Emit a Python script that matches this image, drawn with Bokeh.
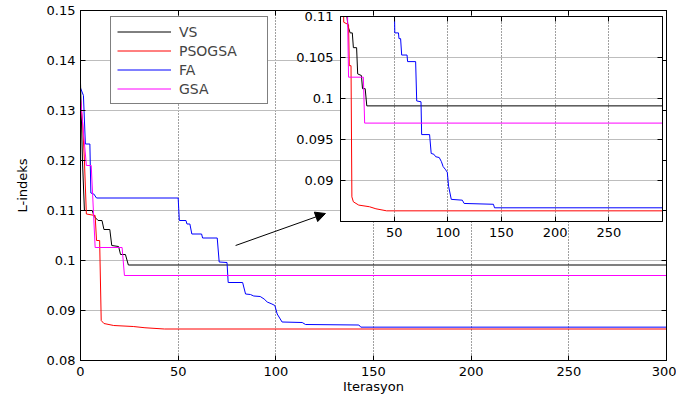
from bokeh.plotting import figure
from bokeh.models import Range1d, FixedTicker, LinearAxis, Legend, LegendItem, Arrow, NormalHead
from bokeh.layouts import column
from bokeh.embed import file_html
from bokeh.resources import INLINE

# ---------------- data ----------------
names = ["VS", "PSOGSA", "FA", "GSA"]
colors = ["black", "#ff0000", "#0000ff", "#ff00ff"]

vs_x = [0, 1, 2, 6, 7, 9, 11, 12, 15, 16, 19.5, 20.5, 23, 24.5, 300]
vs_y = [0.1355, 0.12, 0.110, 0.110, 0.1088, 0.108, 0.108, 0.1062, 0.1062, 0.103, 0.1028,
        0.1012, 0.1012, 0.0991, 0.0991]

pso_x = [0, 1, 2, 3, 7.5, 8.2, 9.8, 10.6, 12, 17, 27, 33, 43, 300]
pso_y = [0.132, 0.128, 0.12, 0.1093, 0.109, 0.104, 0.104, 0.088, 0.0874, 0.087, 0.0868,
         0.08655, 0.0863, 0.0863]

fa_x = [0, 1.5, 2.5, 4.8, 5.3, 6.8, 8.2, 50.0, 50.6, 54, 54.5, 56, 57, 62, 62.5, 70, 71, 75,
        75.6, 83, 84.5, 87, 88.7, 92, 94, 95.6, 98, 99.5, 100.7, 103.2, 113.5, 115.2, 142.5,
        143.5, 300]
fa_y = [0.1345, 0.133, 0.1233, 0.1233, 0.1135, 0.1133, 0.1125, 0.1125, 0.108, 0.108, 0.1073,
        0.1073, 0.1053, 0.1053, 0.1045, 0.1045, 0.0997, 0.0996, 0.0956, 0.0956, 0.0933, 0.0932,
        0.0929, 0.0928, 0.0923, 0.0917, 0.0913, 0.091, 0.0893, 0.0877, 0.0876, 0.0872, 0.0871,
        0.08667, 0.08667]

gsa_x = [0, 1, 3, 5.5, 7.5, 21.3, 22.5, 300]
gsa_y = [0.1327, 0.128, 0.119, 0.119, 0.1026, 0.1026, 0.097, 0.097]

series_x = [vs_x, pso_x, fa_x, gsa_x]
series_y = [vs_y, pso_y, fa_y, gsa_y]

x_ticks = [0, 50, 100, 150, 200, 250, 300]
x_labels = ["0", "50", "100", "150", "200", "250", "300"]
y_ticks = [0.08, 0.09, 0.10, 0.11, 0.12, 0.13, 0.14, 0.15]
y_labels = ["0.08", "0.09", "0.1", "0.11", "0.12", "0.13", "0.14", "0.15"]

in_x_ticks = [50, 100, 150, 200, 250]
in_x_labels = ["50", "100", "150", "200", "250"]
in_y_ticks = [0.09, 0.095, 0.10, 0.105, 0.11]
in_y_labels = ["0.09", "0.095", "0.1", "0.105", "0.11"]

FONT = "DejaVu Sans"
FS = "13px"


def style_axes(fig, xt, xl, yt, yl):
    for ax, t, l in ((fig.xaxis[0], xt, xl), (fig.yaxis[0], yt, yl)):
        ax.ticker = FixedTicker(ticks=t)
        ax.major_label_overrides = {v: s for v, s in zip(t, l)}
        ax.major_tick_in = 5
        ax.major_tick_out = 0
        ax.minor_tick_in = 0
        ax.minor_tick_out = 0
        ax.axis_line_color = "black"
        ax.major_tick_line_color = "black"
        ax.major_label_text_font = FONT
        ax.major_label_text_font_size = FS
        ax.major_label_text_color = "black"
        ax.axis_label_text_font = FONT
        ax.axis_label_text_font_size = FS
        ax.axis_label_text_font_style = "normal"
        ax.axis_label_text_color = "black"
    fig.xaxis[0].major_label_standoff = 6
    fig.yaxis[0].major_label_standoff = 5
    for loc, t in (("above", xt), ("right", yt)):
        a = LinearAxis(ticker=FixedTicker(ticks=t), major_tick_in=5, major_tick_out=0,
                       minor_tick_in=0, minor_tick_out=0, major_label_text_font_size="0px",
                       major_label_standoff=0, axis_line_color="black",
                       major_tick_line_color="black")
        a.major_label_overrides = {v: "" for v in t}
        fig.add_layout(a, loc)
    fig.xgrid.ticker = FixedTicker(ticks=xt)
    fig.ygrid.ticker = FixedTicker(ticks=yt)
    fig.xgrid.grid_line_color = "#404040"
    fig.xgrid.grid_line_dash = "1 2"
    fig.ygrid.grid_line_color = "#bdbdbd"
    fig.ygrid.grid_line_dash = "solid"


# ---------------- main figure ----------------
p = figure(width=676, height=397, output_backend="svg", toolbar_location=None,
           x_range=Range1d(0, 300), y_range=Range1d(0.08, 0.15),
           min_border_left=80, min_border_right=10, min_border_top=10, min_border_bottom=37,
           outline_line_color="black", background_fill_color="white")
p.xaxis.axis_label = "Iterasyon"
p.yaxis.axis_label = "L-indeks"
style_axes(p, x_ticks, x_labels, y_ticks, y_labels)
p.xaxis.axis_label_standoff = 0
p.yaxis.axis_label_standoff = 14

renderers = []
for xs, ys, c in zip(series_x, series_y, colors):
    renderers.append(p.line(xs, ys, line_color=c, line_width=1))

legend = Legend(items=[LegendItem(label=n, renderers=[r]) for n, r in zip(names, renderers)],
                location=(30, 256))
legend.border_line_color = "black"
legend.border_line_width = 1
legend.background_fill_color = "white"
legend.background_fill_alpha = 1
legend.label_text_font = FONT
legend.label_text_font_size = "14px"
legend.glyph_width = 54
legend.glyph_height = 17
legend.spacing = 2
legend.padding = 6
legend.label_standoff = 8
legend.label_width = 82
legend.margin = 0
p.add_layout(legend)

p.add_layout(Arrow(x_start=79.4, y_start=0.103, x_end=125.4, y_end=0.1094, line_width=1,
                   line_color="black",
                   end=NormalHead(size=10, fill_color="black", line_color="black")))

# ---------------- inset figure ----------------
q = figure(width=412, height=237, output_backend="svg", toolbar_location=None,
           x_range=Range1d(0, 300), y_range=Range1d(0.085, 0.11),
           min_border_left=80, min_border_right=10, min_border_top=10, min_border_bottom=22,
           border_fill_color=None, background_fill_color="white", outline_line_color="black")
style_axes(q, in_x_ticks, in_x_labels, in_y_ticks, in_y_labels)
q.yaxis[0].major_label_standoff = 7
q.xaxis[0].major_label_standoff = 4
for xs, ys, c in zip(series_x, series_y, colors):
    q.line(xs, ys, line_color=c, line_width=1)
q.styles = {"position": "absolute", "left": "260px", "top": "6px"}

layout = column(p, q)
layout.styles = {"position": "relative"}

open("out.html", "w").write(file_html(layout, INLINE))
